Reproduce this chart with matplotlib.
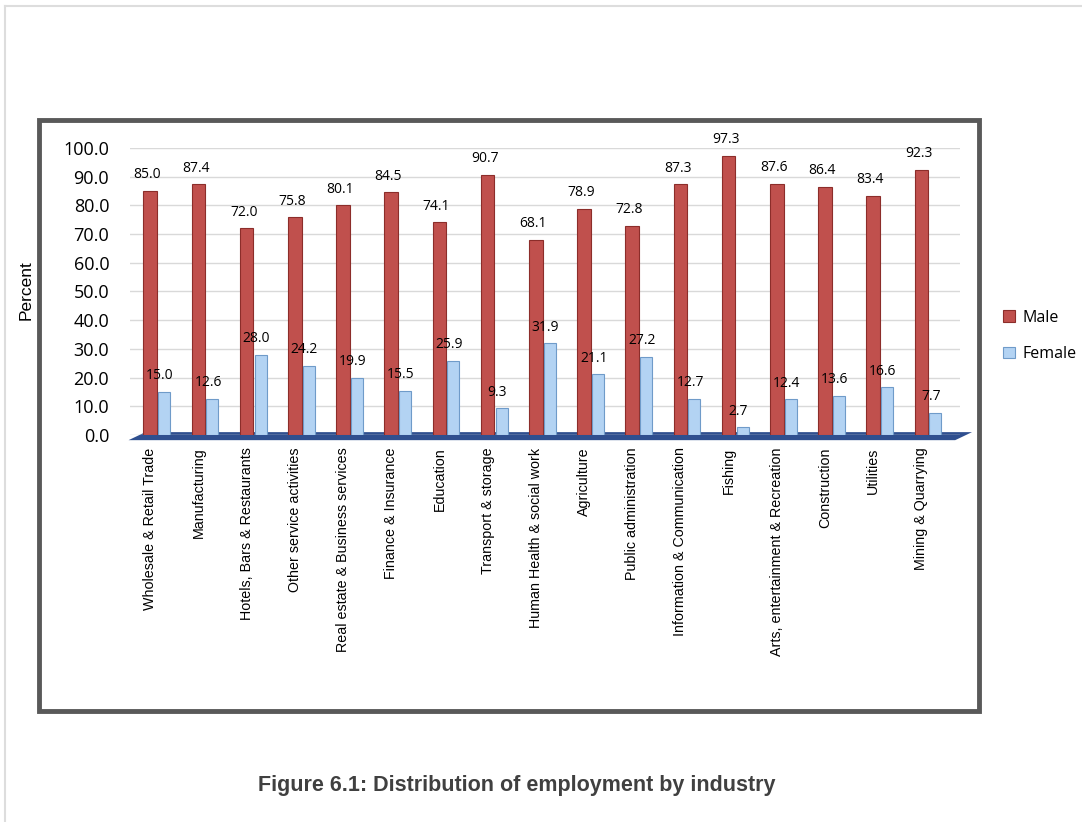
import numpy as np
import matplotlib.pyplot as plt
from matplotlib.patches import Rectangle, Polygon

# data
industries = ["Wholesale & Retail Trade", "Manufacturing", "Hotels, Bars & Restaurants",
              "Other service activities", "Real estate & Business services",
              "Finance & Insurance", "Education", "Transport & storage",
              "Human Health & social work", "Agriculture", "Public administration",
              "Information & Communication", "Fishing", "Arts, entertainment & Recreation",
              "Construction", "Utilities", "Mining & Quarrying"]
male = [85.0, 87.4, 72.0, 75.8, 80.1, 84.5, 74.1, 90.7, 68.1, 78.9, 72.8,
        87.3, 97.3, 87.6, 86.4, 83.4, 92.3]
female = [15.0, 12.6, 28.0, 24.2, 19.9, 15.5, 25.9, 9.3, 31.9, 21.1, 27.2,
          12.7, 2.7, 12.4, 13.6, 16.6, 7.7]
yticks = np.arange(0, 101, 10)

W, H = 1082, 822
fig = plt.figure(figsize=(W / 100, H / 100), dpi=100)

# outer light frame and dark chart frame
fig.add_artist(plt.Line2D([5 / W, 5 / W], [0, 1 - 6 / H], color="#dddddd", lw=1.5))
fig.add_artist(plt.Line2D([5 / W, 1], [1 - 6 / H, 1 - 6 / H], color="#dddddd", lw=1.5))
fig.add_artist(Rectangle((39 / W, 1 - 711 / H), (979 - 39) / W, (711 - 120) / H,
                         fill=False, ec="#595959", lw=3.5))

x = np.arange(len(industries))
ax = fig.add_axes([130 / W, 1 - 435 / H, (960 - 130) / W, (435 - 148) / H])

# floor
floor = Polygon([(-0.45, -1.8), (16.7, -1.8), (17.05, 1.0), (-0.1, 1.0)],
                closed=True, fc="#2f4f8f", ec="none", zorder=1, clip_on=False)
ax.add_patch(floor)

ax.bar(x, male, width=0.28, color="#c0504d", ec="#8c2d2a", lw=0.8, zorder=3, label="Male")
ax.bar(x + 0.29, female, width=0.25, color="#b3d3f3", ec="#6f9bc9", lw=0.8,
       zorder=3, label="Female")

for i in range(len(x)):
    ax.text(x[i] - 0.06, male[i] + 3.0, f"{male[i]:.1f}", ha="center", va="bottom",
            fontsize=10, family="Open Sans")
    ax.text(x[i] + 0.2, female[i] + 3.0, f"{female[i]:.1f}", ha="center", va="bottom",
            fontsize=10, family="Open Sans")

ax.set_xlim(-0.42, 16.8)
ax.set_ylim(0, 100)
ax.set_yticks(yticks)
ax.set_yticklabels([f"{v:.1f}" for v in yticks], fontsize=13, family="Open Sans")
ax.set_xticks(x)
ax.set_xticklabels(industries, rotation=90, fontsize=10.3, family="Liberation Sans")
ax.tick_params(length=0)
ax.tick_params(axis="y", pad=15)
ax.tick_params(axis="x", pad=9)
ax.grid(axis="y", color="#d9d9d9", lw=1, zorder=0)
for s in ax.spines.values():
    s.set_visible(False)
ax.set_ylabel("Percent", fontsize=12.5, family="Liberation Sans")
ax.yaxis.set_label_coords((34 - 130) / 830, 0.505)

leg = ax.legend(loc="center left", bbox_to_anchor=(1.035, 0.345), frameon=False,
                handlelength=0.7, handleheight=0.7, labelspacing=1.3, handletextpad=0.5,
                prop={"family": "Open Sans", "size": 11.5})

fig.text(517 / W, 1 - 785 / H, "Figure 6.1: Distribution of employment by industry",
         ha="center", va="center", fontsize=15.5, fontweight="bold", family="Liberation Sans",
         color="#404040")

fig.savefig("out.png", dpi=100)
